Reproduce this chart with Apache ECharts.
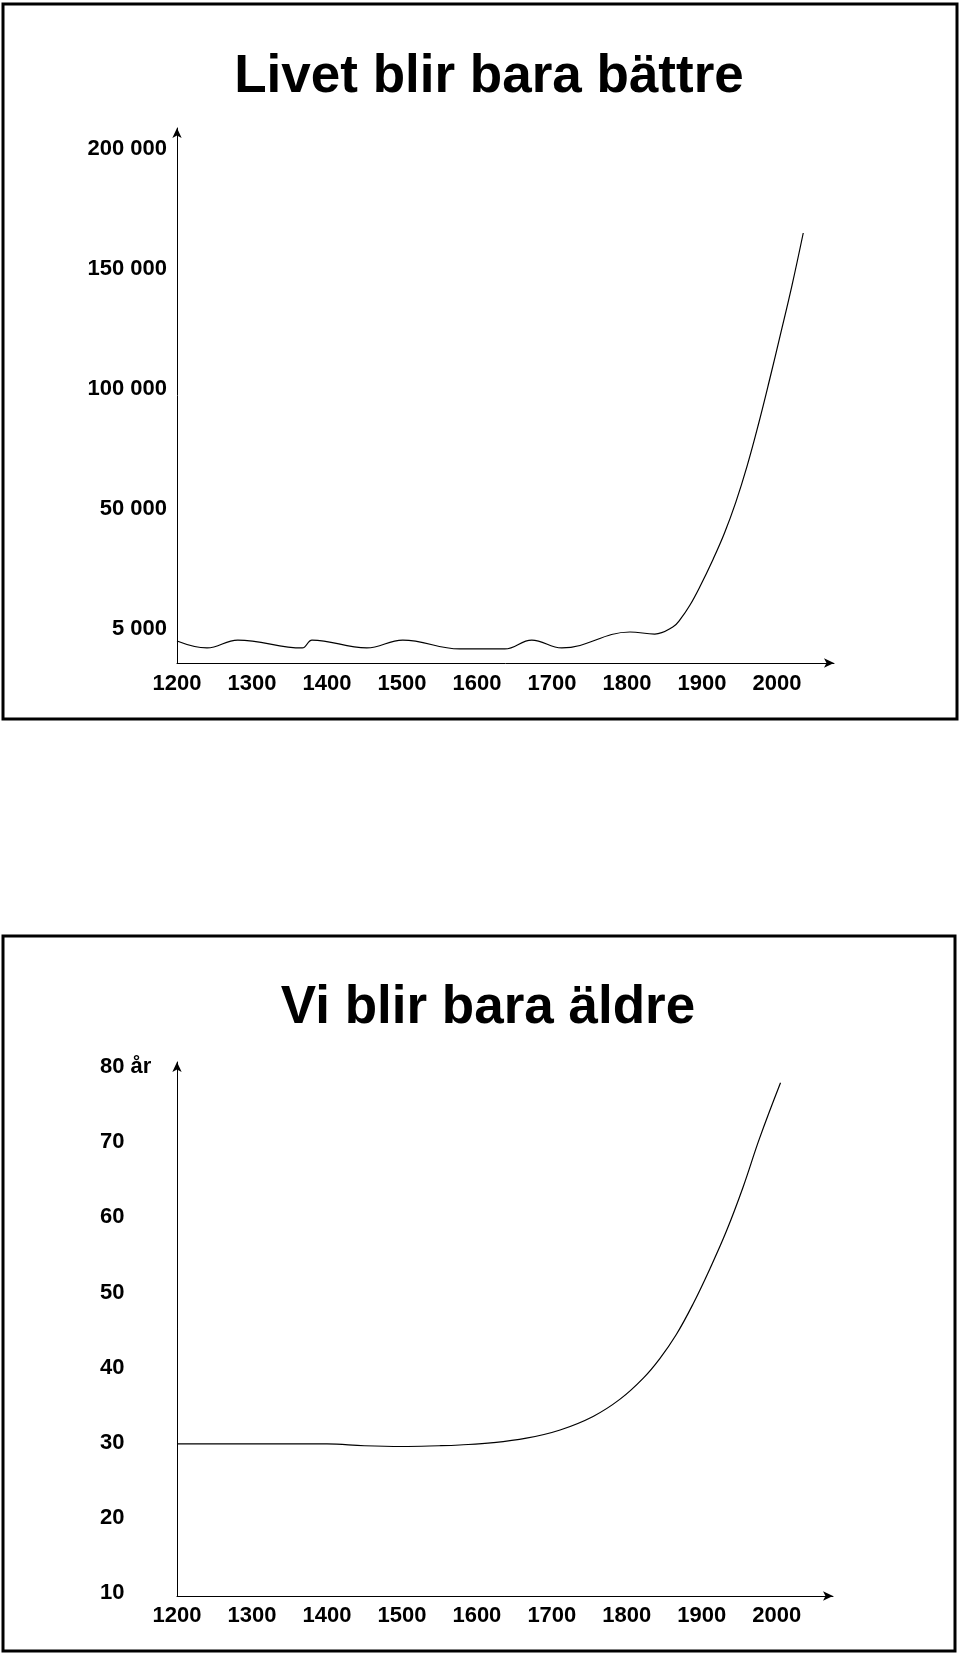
<!DOCTYPE html>
<html>
<head>
<meta charset="utf-8">
<script src="https://cdn.jsdelivr.net/npm/echarts@6/dist/echarts.min.js"></script>
<style>
  html, body { margin: 0; padding: 0; background: #fff; }
  #chart { width: 960px; height: 1654px; }
</style>
</head>
<body>
<div id="chart"></div>
<script>
// ---- Chart 1: "Livet blir bara bättre" ----
const topTitle = 'Livet blir bara bättre';
const xTickYears = [1200, 1300, 1400, 1500, 1600, 1700, 1800, 1900, 2000];
const topYTickValues = [0, 50000, 100000, 150000, 200000];
const topYTickLabels = ['5 000', '50 000', '100 000', '150 000', '200 000'];
const popYears  = [1200, 1240, 1281, 1367, 1380, 1453, 1501, 1577, 1637, 1673, 1713, 1804, 1837, 1861, 1871, 1884, 1897, 1915, 1930, 1945, 1960, 1975, 1990, 2005, 2020, 2035];
const popValues = [-5000, -7900, -4600, -7900, -4600, -7900, -4600, -8300, -8300, -4600, -7900, -1250, -2100, 800, 4000, 10000, 17500, 29200, 40000, 52750, 67750, 85000, 103750, 123250, 143200, 165000];

// ---- Chart 2: "Vi blir bara äldre" ----
const bottomTitle = 'Vi blir bara äldre';
const bottomYTickValues = [10, 20, 30, 40, 50, 60, 70, 80];
const bottomYTickLabels = ['10', '20', '30', '40', '50', '60', '70', '80 år'];
const lifeYears  = [1200, 1300, 1400, 1450, 1500, 1550, 1577, 1622, 1666, 1711, 1755, 1791, 1822, 1844, 1866, 1888, 1911, 1933, 1955, 1977, 2005];
const lifeValues = [29.85, 29.85, 29.85, 29.6, 29.5, 29.6, 29.7, 30.0, 30.6, 31.7, 33.5, 35.8, 38.6, 41.2, 44.4, 48.4, 53.2, 58.2, 64.0, 70.5, 77.9];

const FONT = "'Liberation Sans', Arial, Helvetica, sans-serif";
const chart = echarts.init(document.getElementById('chart'), null, { renderer: 'canvas' });

function pairs(xs, ys) { return xs.map((x, i) => [x, ys[i]]); }

const axisLineStyle = { color: '#000', width: 1 };
const labelStyle = { color: '#000', fontSize: 22, fontWeight: 'bold', fontFamily: FONT };
const titleStyle = { color: '#000', fontSize: 53, fontWeight: 'bold', fontFamily: FONT };

const option = {
  backgroundColor: '#fff',
  animation: false,
  title: [
    { text: topTitle, left: 484, top: 46, textAlign: 'center', textStyle: titleStyle },
    { text: bottomTitle, left: 483, top: 977, textAlign: 'center', textStyle: titleStyle }
  ],
  graphic: [
    { type: 'rect', shape: { x: 3, y: 4, width: 954, height: 715 },
      style: { fill: 'none', stroke: '#000', lineWidth: 3 }, silent: true },
    { type: 'rect', shape: { x: 3, y: 936, width: 952, height: 715 },
      style: { fill: 'none', stroke: '#000', lineWidth: 3 }, silent: true }
  ],
  grid: [
    { left: 177, right: 126, top: 128, bottom: 991, containLabel: false },
    { left: 177, right: 127, top: 1062, bottom: 58, containLabel: false }
  ],
  xAxis: [
    { gridIndex: 0, type: 'value', min: 1200, max: 2076,
      axisLine: { show: true, onZero: false, lineStyle: axisLineStyle, symbol: ['none', 'arrow'], symbolSize: [7, 10] },
      axisTick: { show: false },
      splitLine: { show: false },
      axisLabel: Object.assign({ margin: 10, customValues: xTickYears, formatter: v => String(v) }, labelStyle) },
    { gridIndex: 1, type: 'value', min: 1200, max: 2075,
      axisLine: { show: true, onZero: false, lineStyle: axisLineStyle, symbol: ['none', 'arrow'], symbolSize: [7, 10] },
      axisTick: { show: false },
      splitLine: { show: false },
      axisLabel: Object.assign({ margin: 9, customValues: xTickYears, formatter: v => String(v) }, labelStyle) }
  ],
  yAxis: [
    { gridIndex: 0, type: 'value', min: -14167, max: 208750,
      axisLine: { show: true, onZero: false, lineStyle: axisLineStyle, symbol: ['none', 'arrow'], symbolSize: [7, 10] },
      axisTick: { show: false },
      splitLine: { show: false },
      axisLabel: Object.assign({
        margin: 10, customValues: topYTickValues,
        formatter: v => topYTickLabels[topYTickValues.indexOf(v)]
      }, labelStyle) },
    { gridIndex: 1, type: 'value', min: 9.6, max: 80.67,
      axisLine: { show: true, onZero: false, lineStyle: axisLineStyle, symbol: ['none', 'arrow'], symbolSize: [7, 10] },
      axisTick: { show: false },
      splitLine: { show: false },
      axisLabel: Object.assign({
        margin: 77, align: 'left', customValues: bottomYTickValues,
        formatter: v => bottomYTickLabels[bottomYTickValues.indexOf(v)]
      }, labelStyle) }
  ],
  series: [
    { type: 'line', xAxisIndex: 0, yAxisIndex: 0, data: pairs(popYears, popValues),
      smooth: 0.4, showSymbol: false, symbol: 'none',
      lineStyle: { color: '#000', width: 1.2 }, clip: false },
    { type: 'line', xAxisIndex: 1, yAxisIndex: 1, data: pairs(lifeYears, lifeValues),
      smooth: 0.4, showSymbol: false, symbol: 'none',
      lineStyle: { color: '#000', width: 1.2 }, clip: false }
  ]
};
chart.setOption(option);
</script>
</body>
</html>
